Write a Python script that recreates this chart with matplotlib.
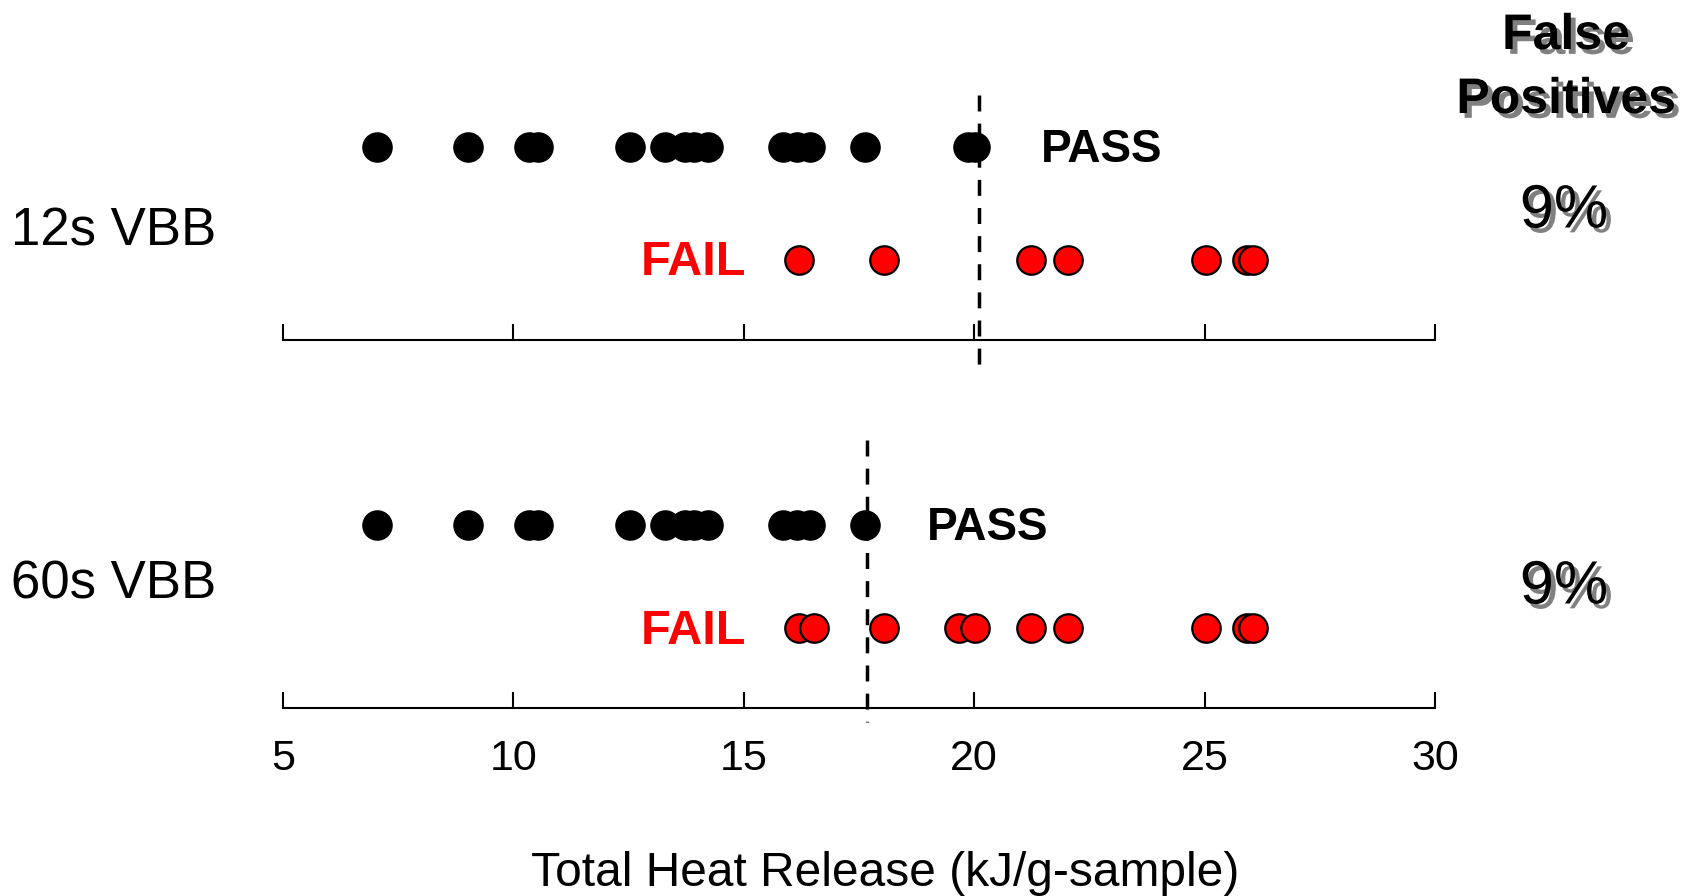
import matplotlib
matplotlib.use("Agg")
import matplotlib.pyplot as plt
import matplotlib.patheffects as pe

plt.rcParams['font.family'] = ['Liberation Sans', 'DejaVu Sans']

# datos (kJ/g-sample)
pass_12s = [7.05, 9.01, 10.34, 10.53, 12.54, 13.30, 13.72, 13.92, 14.23,
            15.84, 16.15, 16.44, 17.64, 19.86, 20.02]
fail_12s = [16.19, 18.04, 21.23, 22.03, 25.04, 25.91, 26.04]
pass_60s = [7.05, 9.01, 10.34, 10.53, 12.54, 13.30, 13.72, 13.92, 14.23,
            15.84, 16.15, 16.44, 17.64]
fail_60s = [16.19, 16.53, 18.04, 19.66, 20.01, 21.23, 22.03, 25.04, 25.91, 26.04]
umbral = [20.10, 17.67]          # criterio pasa/falla de cada ensayo
paneles = ["12s VBB", "60s VBB"]
falsos_pos = ["9%", "9%"]
ticks = [5, 10, 15, 20, 25, 30]

W, H = 1704, 896
fig = plt.figure(figsize=(W / 100, H / 100), dpi=100)

# geometria de cada panel en pixeles: (linea del eje, tope, fila pasa, fila falla, fin linea)
geo = [(340, 95, 146.7, 260, 375),
       (708.3, 440, 525, 628.3, 722)]
pass_x = [21.45, 18.98]
series = [(pass_12s, fail_12s), (pass_60s, fail_60s)]
sombra = [pe.SimplePatchShadow(offset=(3.5, -3.5), shadow_rgbFace='#808080', alpha=1.0),
          pe.Normal()]

x0, x1 = 283, 1435
for i in range(2):
    base, top, yp, yf, yend = geo[i]
    ax = fig.add_axes([x0 / W, 1 - base / H, (x1 - x0) / W, (base - top) / H])
    h = base - top
    rp = (base - yp) / h
    rf = (base - yf) / h
    p, f = series[i]
    ax.plot(p, [rp] * len(p), 'o', color='black', ms=21, mec='black', mew=1,
            clip_on=False, zorder=3)
    ax.plot(f, [rf] * len(f), 'o', color='#ff0000', ms=20.5, mec='black', mew=1.6,
            clip_on=False, zorder=3)
    ax.plot([umbral[i], umbral[i]], [1, (base - yend) / h], color='black', lw=2.5,
            dashes=(4.6, 3.5), clip_on=False, zorder=4)
    ax.text(pass_x[i], rp - 0.012, "PASS", fontsize=33, fontweight='bold',
            va='center', ha='left')
    ax.text(15.06, rf - 0.012, "FAIL", fontsize=35, fontweight='bold', color='#ff0000',
            va='center', ha='right')

    ax.set_xlim(5, 30)
    ax.set_ylim(0, 1)
    for s in ['top', 'left', 'right']:
        ax.spines[s].set_visible(False)
    ax.spines['bottom'].set_linewidth(1.5)
    ax.set_yticks([])
    ax.set_xticks(ticks)
    ax.tick_params(axis='x', direction='in', length=11.5, width=1.5, pad=22,
                   labelsize=31)
    if i == 0:
        ax.set_xticklabels([])
    ax.patch.set_visible(False)

    yc = [231, 584][i]
    fig.text(11 / W, 1 - yc / H, paneles[i], fontsize=38, ha='left', va='center')
    t = fig.text(1564 / W, 1 - [212, 588][i] / H, falsos_pos[i], fontsize=44,
                 ha='center', va='center')
    t.set_path_effects(sombra)

t = fig.text(1566 / W, 1 - 36 / H, "False", fontsize=36, fontweight='bold',
             ha='center', va='center')
t.set_path_effects(sombra)
t = fig.text(1566 / W, 1 - 100 / H, "Positives", fontsize=36, fontweight='bold',
             ha='center', va='center')
t.set_path_effects(sombra)

fig.text(885 / W, 1 - 873 / H, "Total Heat Release (kJ/g-sample)", fontsize=34.5,
         ha='center', va='center')

fig.savefig("out.png", dpi=100)
